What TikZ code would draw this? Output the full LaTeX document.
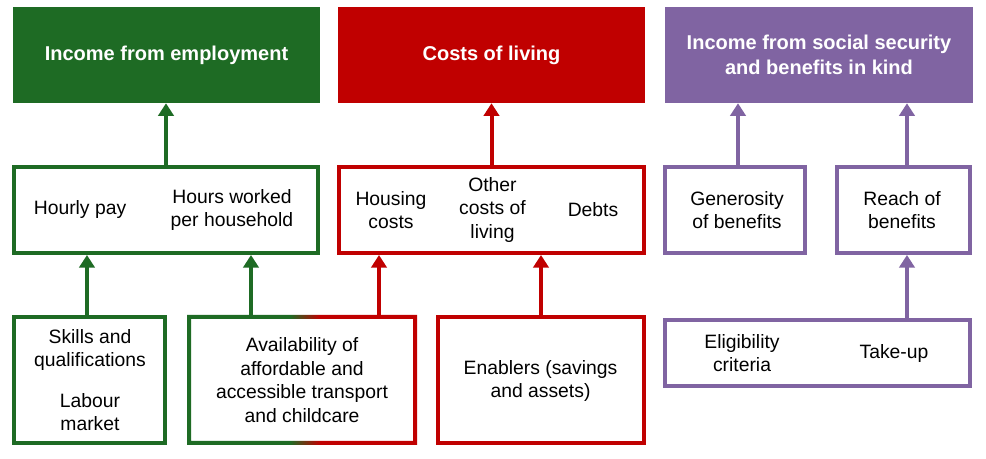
\documentclass[tikz,border=0pt]{standalone}
\usepackage{fontspec}
\setmainfont{Liberation Sans}
\usepackage{tikz}
\usetikzlibrary{arrows.meta,positioning}
\definecolor{empgreen}{RGB}{30,107,36}
\definecolor{colred}{RGB}{192,0,0}
\definecolor{sspurple}{RGB}{128,100,162}
\pgfdeclarehorizontalshading{greenred}{100bp}{color(0bp)=(empgreen); color(47.4bp)=(empgreen); color(53.9bp)=(colred); color(100bp)=(colred)}
\tikzset{
    header/.style={rectangle,draw=none,text=white,align=center,inner sep=0pt,
        node font=\bfseries\fontsize{15}{18.75}\selectfont},
    factor/.style={rectangle,draw,line width=3pt,outer sep=1.5pt,fill=white,inner sep=0pt},
    factortext/.style={align=center,inner sep=0pt,node font=\fontsize{14.5}{17.75}\selectfont},
    flecha/.style={draw,line width=3pt,-{Triangle[length=9.5pt,width=11.5pt]}},
    size/.style 2 args={minimum width=#1*0.75pt,minimum height=#2*0.75pt},
}

\begin{document}
\begin{tikzpicture}[x=0.75pt,y=-0.75pt]
    \useasboundingbox (0,0) rectangle (986,459);
    \fill [white] (0,0) rectangle (986,459);
    % outcomes
    \node [header,fill=empgreen,size={307}{96}] (emp) at (166.5,55) {Income from employment};
    \node [header,fill=colred,size={307}{96}] (col) at (491.5,55) {Costs of living};
    \node [header,fill=sspurple,size={308}{96}] (ss) at (819,55) {Income from social security\\and benefits in kind};
    % drivers
    \node [factor,draw=empgreen,size={304}{86}] (empmid) at (166,210) {};
    \node [factor,draw=colred,size={305}{86}] (colmid) at (491.5,210) {};
    \node [factor,draw=sspurple,size={140}{86}] (genmid) at (735,210) {};
    \node [factor,draw=sspurple,size={133}{86}] (reachmid) at (903.5,210) {};
    \node [factortext] (hourly) at (80,210) {Hourly pay};
    \node [factortext] (hours) at (232,210) {Hours worked\\per household};
    \node [factortext] (housing) at (391,210) {Housing\\costs};
    \node [factortext] (other) at (492.5,210) {Other\\costs of\\living};
    \node [factortext] (debts) at (593,210) {Debts};
    \node [factortext] (generosity) at (737,210) {Generosity\\of benefits};
    \node [factortext] (reach) at (902,210) {Reach of\\benefits};
    % underlying factors
    \node [factor,draw=empgreen,size={151}{126}] (skills) at (89.5,380) {};
    \node [factor,draw=none,size={226}{126}] (avail) at (302,380) {};
    \node [factor,draw=colred,size={206}{126}] (enab) at (541,380) {};
    \node [factor,draw=sspurple,size={305}{66}] (elig) at (817.5,353) {};
    \shade [shading=greenred,even odd rule] (avail.north west) rectangle (avail.south east)
        ([shift={(3pt,-3pt)}]avail.north west) rectangle ([shift={(-3pt,3pt)}]avail.south east);
    \node [factortext] (skillstext) at (90,350) {Skills and\\qualifications};
    \node [factortext] (labour) at (90,412) {Labour\\market};
    \node [factortext] (availtext) at (302,380) {Availability of\\affordable and\\accessible transport\\and childcare};
    \node [factortext] (enabtext) at (540.5,381) {Enablers (savings\\and assets)};
    \node [factortext] (eligtext) at (742,353) {Eligibility\\criteria};
    \node [factortext] (takeup) at (894,354) {Take-up};
    % arrows
    \path [flecha,empgreen] (empmid.north) -- (empmid.north |- emp.south);
    \path [flecha,colred] (colmid.north) -- (colmid.north |- col.south);
    \path [flecha,sspurple] ([xshift=2.25pt]genmid.north) -- ([xshift=2.25pt]genmid.north |- ss.south);
    \path [flecha,sspurple] ([xshift=2.6pt]reachmid.north) -- ([xshift=2.6pt]reachmid.north |- ss.south);
    \path [flecha,empgreen] ([xshift=-1.9pt]skills.north) -- ([xshift=-1.9pt]skills.north |- empmid.south);
    \path [flecha,empgreen] ([xshift=-38.25pt]avail.north) -- ([xshift=-38.25pt]avail.north |- empmid.south);
    \path [flecha,colred] ([xshift=57.75pt]avail.north) -- ([xshift=57.75pt]avail.north |- colmid.south);
    \path [flecha,colred] (enab.north) -- (enab.north |- colmid.south);
    \path [flecha,sspurple] ([xshift=2.6pt]reachmid.south |- elig.north) -- ([xshift=2.6pt]reachmid.south);
\end{tikzpicture}
\end{document}
